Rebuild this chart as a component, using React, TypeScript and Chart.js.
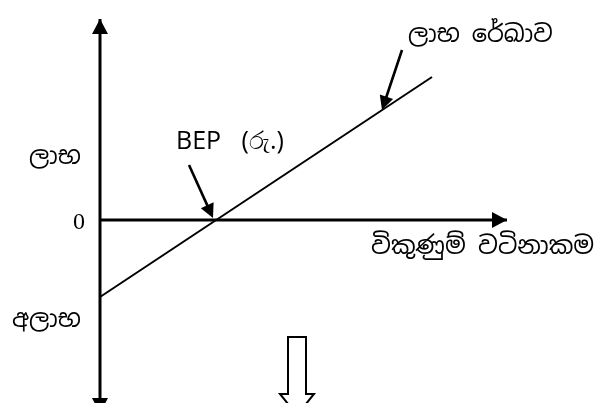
import React, { useEffect, useRef } from "react";
import { Chart, registerables } from "chart.js";
Chart.register(...registerables);

// Schematic break-even (profit-volume) chart. Origin = (0 sales, 0 profit).
const xAxisX = [0, 407];
const xAxisY = [0, 0];
const yAxisX = [0, 0];
const yAxisY = [201, -193];
const profitX = [0, 332];
const profitY = [-77, 143];

// pointer arrows [fromX, fromY, toX, toY]
const bepArrow = [89, 55, 113, 2];
const lineArrow = [302, 170, 282, 110];

// labels
const labelTexts = ["ලාභ රේඛාව", "BEP (රු.)", "ලාභ", "0", "විකුණුම් වටිනාකම", "අලාභ"];
const labelX = [308, 76, -71, -15, 271, -88];
const labelY = [185, 78, 63, -3, -27, -100];

// hollow down arrow outline
const hollowX = [188, 206, 206, 214, 197, 180, 188, 188];
const hollowY = [-117, -117, -174, -174, -195, -174, -174, -117];

const SIN = "'Noto Sans Sinhala', 'Iskoola Pota', 'FreeSerif', serif";

function head(ctx: CanvasRenderingContext2D, tx: number, ty: number, fx: number, fy: number, len: number, hw: number) {
  const a = Math.atan2(ty - fy, tx - fx);
  const bx = tx - Math.cos(a) * len;
  const by = ty - Math.sin(a) * len;
  const nx = -Math.sin(a);
  const ny = Math.cos(a);
  ctx.beginPath();
  ctx.moveTo(tx, ty);
  ctx.lineTo(bx + nx * hw, by + ny * hw);
  ctx.lineTo(bx - nx * hw, by - ny * hw);
  ctx.closePath();
  ctx.fill();
}

const decor = {
  id: "decor",
  afterDatasetsDraw(chart: any) {
    const ctx = chart.ctx as CanvasRenderingContext2D;
    const xs = chart.scales.x;
    const ys = chart.scales.y;
    const px = (v: number) => xs.getPixelForValue(v);
    const py = (v: number) => ys.getPixelForValue(v);
    ctx.save();
    ctx.fillStyle = "#000";
    ctx.strokeStyle = "#000";
    // axis arrowheads
    head(ctx, px(yAxisX[0]), py(yAxisY[0]), px(0), py(0), 15, 8);
    head(ctx, px(yAxisX[1]), py(yAxisY[1]), px(0), py(0), 15, 8);
    head(ctx, px(xAxisX[1]), py(xAxisY[1]), px(0), py(0), 15, 8);
    // pointer arrows
    for (const ar of [bepArrow, lineArrow]) {
      const fx = px(ar[0]), fy = py(ar[1]), tx = px(ar[2]), ty = py(ar[3]);
      const a = Math.atan2(ty - fy, tx - fx);
      ctx.lineWidth = 2.6;
      ctx.beginPath();
      ctx.moveTo(fx, fy);
      ctx.lineTo(tx - Math.cos(a) * 10, ty - Math.sin(a) * 10);
      ctx.stroke();
      head(ctx, tx, ty, fx, fy, 14, 7);
    }
    // hollow arrow
    ctx.lineWidth = 2;
    ctx.lineJoin = "miter";
    ctx.beginPath();
    hollowX.forEach((v, i) => {
      const X = px(v), Y = py(hollowY[i]);
      if (i === 0) ctx.moveTo(X, Y);
      else ctx.lineTo(X, Y);
    });
    ctx.closePath();
    ctx.stroke();
    // labels
    ctx.textBaseline = "middle";
    labelTexts.forEach((t, i) => {
      (ctx as any).wordSpacing = "0px";
      if (t === "0") {
        ctx.font = "24px 'Liberation Serif', serif";
        ctx.textAlign = "right";
      } else if (t.startsWith("BEP")) {
        ctx.font = "25px 'Open Sans', 'Liberation Sans', sans-serif";
        (ctx as any).wordSpacing = "14px";
        ctx.textAlign = "left";
      } else {
        ctx.font = (t.length > 12 ? "24.5px " : "24px ") + SIN;
        ctx.textAlign = "left";
      }
      ctx.fillText(t, px(labelX[i]), py(labelY[i]));
    });
    ctx.restore();
  },
};

export default function App() {
  const ref = useRef<HTMLCanvasElement | null>(null);
  useEffect(() => {
    document.body.style.margin = "0";
    const pts = (xs: number[], ys: number[]) => xs.map((x, i) => ({ x, y: ys[i] }));
    const chart = new Chart(ref.current!, {
      type: "scatter",
      data: {
        datasets: [
          { data: pts(yAxisX, yAxisY), showLine: true, borderColor: "#000", borderWidth: 3, pointRadius: 0 },
          { data: pts(xAxisX, xAxisY), showLine: true, borderColor: "#000", borderWidth: 3, pointRadius: 0 },
          { data: pts(profitX, profitY), showLine: true, borderColor: "#000", borderWidth: 2, pointRadius: 0 },
        ],
      },
      options: {
        animation: false,
        responsive: false,
        devicePixelRatio: 1,
        layout: { padding: 0 },
        plugins: { legend: { display: false }, tooltip: { enabled: false } },
        scales: {
          x: { type: "linear", min: -100, max: 509, display: false },
          y: { type: "linear", min: -183, max: 220, display: false },
        },
      },
      plugins: [decor],
    });
    return () => chart.destroy();
  }, []);
  return (
    <div style={{ position: "absolute", left: 0, top: 0, width: 609, height: 403, background: "#fff" }}>
      <canvas ref={ref} width={609} height={403} />
    </div>
  );
}
